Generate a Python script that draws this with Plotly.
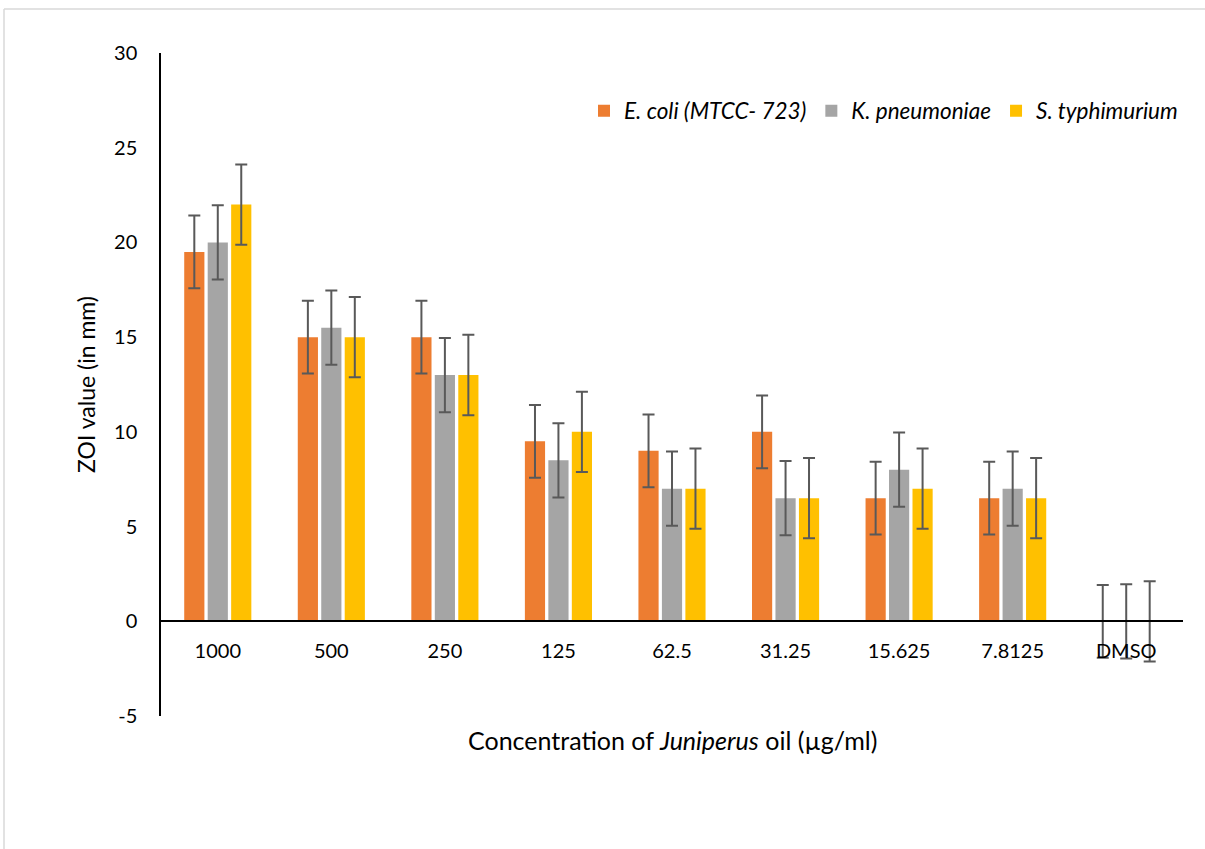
import plotly.graph_objects as go

categories = ["1000", "500", "250", "125", "62.5", "31.25", "15.625", "7.8125", "DMSO"]
ecoli = [19.5, 15, 15, 9.5, 9, 10, 6.5, 6.5, 0]
kpneu = [20, 15.5, 13, 8.5, 7, 6.5, 8, 7, 0]
styph = [22, 15, 13, 10, 7, 6.5, 7, 6.5, 0]
err_ecoli = [1.92] * 9
err_kpneu = [1.96] * 9
err_styph = [2.12] * 9
y_tickvals = [-5, 0, 5, 10, 15, 20, 25, 30]
y_ticktext = ["-5", "0", "5", "10", "15", "20", "25", "30"]

series = [
    ("<i>E. coli (MTCC- 723)</i>", ecoli, err_ecoli, "#ED7D31"),
    ("<i>K. pneumoniae</i>", kpneu, err_kpneu, "#A5A5A5"),
    ("<i>S. typhimurium</i>", styph, err_styph, "#FFC000"),
]

FONT = "Lato, Carlito, Calibri, sans-serif"

fig = go.Figure()
for name, vals, errs, col in series:
    fig.add_trace(go.Bar(
        x=categories, y=vals, name=name, marker_color=col,
        marker_line_width=0,
        error_y=dict(type="data", array=errs, visible=True,
                     color="#595959", thickness=2, width=6),
    ))

ymin, ymax = -5, 30
fig.update_layout(
    width=1205, height=849,
    margin=dict(l=161, r=22, t=53, b=133),
    paper_bgcolor="white", plot_bgcolor="white",
    barmode="group", bargap=0.38, bargroupgap=0.14,
    font=dict(family=FONT, size=20, color="black"),
    showlegend=True,
    legend=dict(orientation="h", x=1.0, xanchor="right", y=(716 - 111) / 663, yanchor="middle",
                font=dict(size=22.5, family=FONT), itemwidth=30, traceorder="normal",
                bgcolor="rgba(0,0,0,0)"),
    xaxis=dict(
        anchor="free", position=(0 - ymin) / (ymax - ymin),
        showline=True, linecolor="black", linewidth=1.5,
        showgrid=False, ticks="", tickfont=dict(size=20),
        ticklabelstandoff=12,
    ),
    yaxis=dict(
        range=[ymin, ymax], tickvals=y_tickvals, ticktext=y_ticktext,
        showline=True, linecolor="black", linewidth=1.5,
        showgrid=False, zeroline=False, ticks="", tickfont=dict(size=20),
        ticklabelstandoff=18,
        title=dict(text="ZOI value (in mm)", font=dict(size=23), standoff=12),
    ),
    annotations=[dict(
        text="Concentration of <i>Juniperus</i> oil (µg/ml)",
        xref="paper", yref="paper", x=0.5, y=-(740 - 716) / 663,
        xanchor="center", yanchor="middle", showarrow=False,
        font=dict(size=25, family=FONT),
    )],
    shapes=[
        dict(type="line", xref="paper", yref="paper",
             x0=-157 / 1022, x1=1.05, y0=(716 - 9) / 663, y1=(716 - 9) / 663,
             line=dict(color="#D9D9D9", width=1.5)),
        dict(type="line", xref="paper", yref="paper",
             x0=-157 / 1022, x1=-157 / 1022, y0=(716 - 9) / 663, y1=-0.25,
             line=dict(color="#D9D9D9", width=1.5)),
    ],
)

fig.write_html("out.html", config={"displayModeBar": False},
               post_script="document.body.style.margin='0';")
